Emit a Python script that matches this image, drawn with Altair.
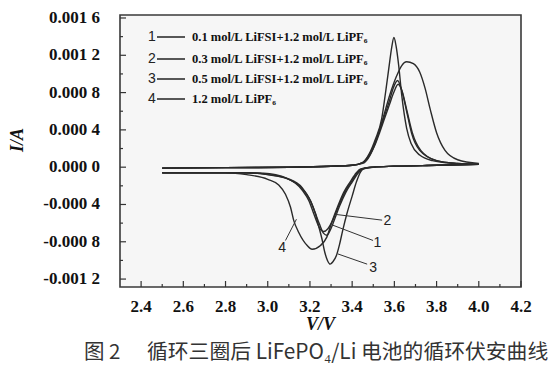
import altair as alt
import pandas as pd

# ---------------- data ----------------
# curve 1: 0.1 mol/L LiFSI + 1.2 mol/L LiPF6
c1_an_v = [2.50, 2.80, 3.10, 3.30, 3.40, 3.45, 3.48, 3.51, 3.53, 3.55, 3.575, 3.595, 3.615, 3.633, 3.658, 3.682, 3.72, 3.80, 3.90, 4.00]
c1_an_i = [-0.00001, -0.000005, 0.0, 0.00001, 0.00002, 0.00005, 0.00013, 0.00027, 0.00040, 0.00053, 0.00070, 0.00085, 0.00093, 0.00084, 0.00060, 0.00036, 0.00018, 0.00007, 0.00004, 0.00003]
c1_ca_v = [4.00, 3.80, 3.60, 3.50, 3.45, 3.43, 3.40, 3.37, 3.34, 3.315, 3.295, 3.28, 3.265, 3.245, 3.225, 3.205, 3.175, 3.14, 3.10, 3.00, 2.90, 2.70, 2.50]
c1_ca_i = [0.00003, 0.00002, 0.00001, 0.0, -0.00002, -0.00006, -0.00016, -0.00027, -0.00042, -0.00057, -0.00068, -0.00073, -0.00071, -0.00061, -0.00049, -0.00037, -0.00026, -0.00018, -0.00013, -0.00008, -0.00006, -0.00006, -0.00006]

# curve 2: 0.3 mol/L LiFSI + 1.2 mol/L LiPF6
c2_an_v = [2.50, 2.80, 3.10, 3.30, 3.40, 3.45, 3.48, 3.51, 3.53, 3.55, 3.575, 3.597, 3.618, 3.636, 3.66, 3.685, 3.725, 3.80, 3.90, 4.00]
c2_an_i = [-0.00001, -0.000005, 0.0, 0.00001, 0.00002, 0.00005, 0.00012, 0.00025, 0.00037, 0.00050, 0.00066, 0.00080, 0.00089, 0.00082, 0.00060, 0.00037, 0.00018, 0.00007, 0.00004, 0.00003]
c2_ca_v = [4.00, 3.80, 3.60, 3.50, 3.445, 3.425, 3.395, 3.365, 3.335, 3.31, 3.285, 3.265, 3.25, 3.235, 3.215, 3.195, 3.165, 3.13, 3.09, 3.00, 2.90, 2.70, 2.50]
c2_ca_i = [0.00003, 0.00002, 0.00001, 0.0, -0.00002, -0.00006, -0.00016, -0.00027, -0.00042, -0.00056, -0.00066, -0.00069, -0.00067, -0.00060, -0.00048, -0.00036, -0.00025, -0.00017, -0.00012, -0.00008, -0.00006, -0.00006, -0.00006]

# curve 3: 0.5 mol/L LiFSI + 1.2 mol/L LiPF6
c3_an_v = [2.50, 2.80, 3.10, 3.30, 3.40, 3.45, 3.48, 3.51, 3.54, 3.56, 3.576, 3.587, 3.598, 3.608, 3.62, 3.635, 3.658, 3.68, 3.72, 3.78, 3.88, 4.00]
c3_an_i = [-0.00001, -0.000005, 0.0, 0.00001, 0.00002, 0.00005, 0.00014, 0.00030, 0.00052, 0.00083, 0.00110, 0.00128, 0.00139, 0.00130, 0.00110, 0.00077, 0.00042, 0.00025, 0.00013, 0.00007, 0.00004, 0.00003]
c3_ca_v = [4.00, 3.80, 3.60, 3.50, 3.46, 3.44, 3.42, 3.40, 3.375, 3.355, 3.34, 3.325, 3.31, 3.296, 3.283, 3.27, 3.257, 3.241, 3.226, 3.202, 3.163, 3.092, 2.98, 2.80, 2.50]
c3_ca_i = [0.00003, 0.00002, 0.00001, 0.0, -0.00001, -0.00005, -0.00016, -0.00031, -0.00050, -0.00068, -0.00083, -0.00095, -0.00101, -0.00104, -0.00100, -0.00091, -0.00077, -0.00063, -0.00050, -0.00036, -0.00022, -0.00012, -0.000065, -0.00006, -0.00006]

# curve 4: 1.2 mol/L LiPF6
c4_an_v = [2.50, 2.80, 3.10, 3.30, 3.40, 3.45, 3.485, 3.516, 3.548, 3.579, 3.611, 3.635, 3.658, 3.69, 3.72, 3.745, 3.77, 3.80, 3.84, 3.90, 4.00]
c4_an_i = [-0.00001, -0.000005, 0.0, 0.00001, 0.00002, 0.00004, 0.00013, 0.00030, 0.00054, 0.00078, 0.00098, 0.00109, 0.00113, 0.00111, 0.00102, 0.00085, 0.00062, 0.00037, 0.00018, 0.00008, 0.00004]
c4_ca_v = [4.00, 3.80, 3.60, 3.50, 3.44, 3.42, 3.39, 3.36, 3.33, 3.305, 3.28, 3.25, 3.21, 3.187, 3.147, 3.123, 3.108, 3.084, 3.052, 3.00, 2.90, 2.80, 2.65, 2.50]
c4_ca_i = [0.00003, 0.00002, 0.00001, 0.0, -0.00002, -0.00006, -0.00016, -0.00027, -0.00043, -0.00058, -0.00075, -0.00084, -0.00088, -0.00084, -0.00070, -0.00057, -0.00043, -0.00029, -0.00019, -0.00013, -0.00008, -0.00006, -0.00006, -0.00006]

legend_numbers = ["1", "2", "3", "4"]
legend_labels = [
    "0.1 mol/L LiFSI+1.2 mol/L LiPF\u2086",
    "0.3 mol/L LiFSI+1.2 mol/L LiPF\u2086",
    "0.5 mol/L LiFSI+1.2 mol/L LiPF\u2086",
    "1.2 mol/L LiPF\u2086",
]

# callout labels near the reduction peaks
callout_text = ["2", "1", "3", "4"]
callout_v_start = [3.320, 3.306, 3.332, 3.136]
callout_i_start = [-0.000506, -0.000620, -0.000930, -0.000558]
callout_v_end = [3.542, 3.499, 3.471, 3.084]
callout_i_end = [-0.000568, -0.000786, -0.001040, -0.000786]
callout_v_label = [3.567, 3.520, 3.500, 3.068]
callout_i_label = [-0.000582, -0.000808, -0.001078, -0.000862]

x_major_ticks = [2.4, 2.6, 2.8, 3.0, 3.2, 3.4, 3.6, 3.8, 4.0, 4.2]
x_tick_labels = ["2.4", "2.6", "2.8", "3.0", "3.2", "3.4", "3.6", "3.8", "4.0", "4.2"]
x_minor_ticks = [2.5, 2.7, 2.9, 3.1, 3.3, 3.5, 3.7, 3.9, 4.1]
y_major_ticks = [-0.0012, -0.0008, -0.0004, 0.0, 0.0004, 0.0008, 0.0012, 0.0016]
y_tick_labels = ["-0.001 2", "-0.000 8", "-0.000 4", "0.000 0", "0.000 4", "0.000 8", "0.001 2", "0.001 6"]
y_minor_ticks = [-0.0010, -0.0006, -0.0002, 0.0002, 0.0006, 0.0010, 0.0014]

x_title = "V/V"
y_title = "I/A"
caption_fig = "图 2"
caption_text = "循环三圈后 LiFePO\u2084/Li 电池的循环伏安曲线"

# ---------------- build tables ----------------
rows = []
series = [
    ("1", c1_an_v, c1_an_i, c1_ca_v, c1_ca_i),
    ("2", c2_an_v, c2_an_i, c2_ca_v, c2_ca_i),
    ("3", c3_an_v, c3_an_i, c3_ca_v, c3_ca_i),
    ("4", c4_an_v, c4_an_i, c4_ca_v, c4_ca_i),
]
for name, av, ai, cv, ci in series:
    for v, i in zip(av, ai):
        rows.append({"curve": name, "key": name + "a", "V": v, "I": i})
    for v, i in zip(cv, ci):
        rows.append({"curve": name, "key": name + "c", "V": v, "I": i})
df = pd.DataFrame(rows)

callouts = pd.DataFrame({
    "t": callout_text,
    "v1": callout_v_start, "i1": callout_i_start,
    "v2": callout_v_end, "i2": callout_i_end,
    "vl": callout_v_label, "il": callout_i_label,
})
xlab_df = pd.DataFrame({"t": x_major_ticks, "lab": x_tick_labels})
ylab_df = pd.DataFrame({"t": y_major_ticks, "lab": y_tick_labels})

W, H = 401, 272
XS = alt.Scale(domain=[2.3, 4.2], nice=False, zero=False)
YS = alt.Scale(domain=[-0.001285, 0.001632], nice=False, zero=False)
SERIF = "Liberation Serif"
SANS = "Liberation Sans"
INK = "#2a2a2a"

curves = alt.Chart(df).mark_line(interpolate="monotone", color=INK, strokeWidth=1.4).encode(
    x=alt.X("V:Q", scale=XS, axis=None),
    y=alt.Y("I:Q", scale=YS, axis=None),
    detail="key:N",
    order=alt.Order("V:Q"),
)

def xticks(vals, length):
    return alt.Chart(pd.DataFrame({"t": vals})).mark_rule(color="#333", strokeWidth=1.2).encode(
        x=alt.X("t:Q", scale=XS, axis=None), y=alt.value(H), y2=alt.value(H - length))

def yticks(vals, length):
    return alt.Chart(pd.DataFrame({"t": vals})).mark_rule(color="#333", strokeWidth=1.2).encode(
        y=alt.Y("t:Q", scale=YS, axis=None), x=alt.value(0), x2=alt.value(length))

xlabels = alt.Chart(xlab_df).mark_text(font=SERIF, fontWeight="bold", fontSize=17, color="#111",
                                       align="center", baseline="middle").encode(
    x=alt.X("t:Q", scale=XS, axis=None), y=alt.value(H + 20), text="lab:N")
ylabels = alt.Chart(ylab_df).mark_text(font=SERIF, fontWeight="bold", fontSize=17, color="#111",
                                       align="right", baseline="middle").encode(
    y=alt.Y("t:Q", scale=YS, axis=None), x=alt.value(-20), text="lab:N")

xtitle = alt.Chart(pd.DataFrame({"t": [x_title]})).mark_text(
    font=SERIF, fontWeight="bold", fontStyle="italic", fontSize=18, color="#111",
    align="center", baseline="middle").encode(x=alt.value(W / 2), y=alt.value(H + 38), text="t:N")
ytitle = alt.Chart(pd.DataFrame({"t": [y_title]})).mark_text(
    font=SERIF, fontWeight="bold", fontStyle="italic", fontSize=18, color="#111",
    align="center", baseline="middle", angle=270).encode(x=alt.value(-102), y=alt.value(125), text="t:N")

leaders = alt.Chart(callouts).mark_rule(color="#333", strokeWidth=1.0).encode(
    x=alt.X("v1:Q", scale=XS, axis=None), x2="v2:Q",
    y=alt.Y("i1:Q", scale=YS, axis=None), y2="i2:Q")
leader_labels = alt.Chart(callouts).mark_text(font=SANS, fontSize=14, color="#222", align="center", baseline="middle").encode(
    x=alt.X("vl:Q", scale=XS, axis=None), y=alt.Y("il:Q", scale=YS, axis=None), text="t:N")

legend_layers = []
row_y = [22, 44, 64, 84]
for k in range(4):
    one = pd.DataFrame({"n": [legend_numbers[k]], "lab": [legend_labels[k]]})
    legend_layers.append(alt.Chart(one).mark_text(font=SANS, fontSize=14, color="#222", align="center", baseline="middle").encode(
        x=alt.value(32), y=alt.value(row_y[k]), text="n:N"))
    legend_layers.append(alt.Chart(one).mark_rule(color="#222", strokeWidth=1.5).encode(
        x=alt.value(37), x2=alt.value(65), y=alt.value(row_y[k])))
    legend_layers.append(alt.Chart(one).mark_text(font=SERIF, fontWeight="bold", fontSize=12.5, color="#111", align="left", baseline="middle").encode(
        x=alt.value(72), y=alt.value(row_y[k]), text="lab:N"))

cap1 = alt.Chart(pd.DataFrame({"t": [caption_fig]})).mark_text(
    font="Noto Sans CJK SC", fontSize=20.5, color="#333", align="left", baseline="middle").encode(
    x=alt.value(-36), y=alt.value(338), text="t:N")
cap2 = alt.Chart(pd.DataFrame({"t": [caption_text]})).mark_text(
    font="Noto Sans CJK SC", fontSize=20.8, color="#333", align="left", baseline="middle").encode(
    x=alt.value(27), y=alt.value(338), text="t:N")

chart = alt.layer(
    curves,
    xticks(x_major_ticks, 6), xticks(x_minor_ticks, 3),
    yticks(y_major_ticks, 6), yticks(y_minor_ticks, 3),
    xlabels, ylabels, xtitle, ytitle,
    leaders, leader_labels,
    *legend_layers,
    cap1, cap2,
).properties(
    width=W, height=H,
    padding={"left": 112, "top": 7, "right": 29, "bottom": 80},
    autosize=alt.AutoSizeParams(type="none"),
    background="white",
).configure_view(
    fill="#f6f6f6", stroke="#3a3a3a", strokeWidth=1.6
)

chart.save("out.html", embed_options={"renderer": "svg", "actions": False})
